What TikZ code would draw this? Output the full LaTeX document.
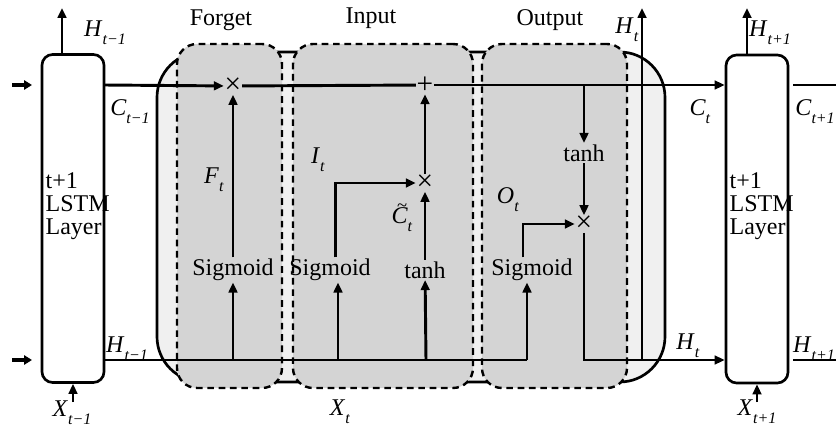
\documentclass[tikz,border=0pt]{standalone}
\usepackage{fontspec}
\setmainfont{Liberation Serif}
\usetikzlibrary{positioning,arrows.meta}
\definecolor{gateFill}{HTML}{D4D4D4}
\definecolor{cellFill}{HTML}{F0F0F0}
\newcommand{\sublab}[2]{\textit{#1}\raisebox{-0.75ex}{\fontsize{12pt}{12pt}\selectfont\textit{#2}}}
\newcommand{\tildeC}{\makebox[0pt][l]{\hspace{0.22em}\raisebox{0.5em}{\fontsize{14pt}{14pt}\selectfont\char"7E}}\textit{C}}

\begin{document}
\begin{tikzpicture}[x=0.75pt,y=-0.75pt,
          every node/.style={font=\fontsize{18pt}{19pt}\selectfont,inner sep=1pt},
          cell/.style={draw,line width=2pt,fill=cellFill,rounded corners=34pt,
                       minimum width=381pt,minimum height=247.5pt},
          gate/.style={draw,line width=1.8pt,dash pattern=on 5pt off 3.5pt,
                       fill=gateFill,rounded corners=15pt,minimum height=258pt},
          layer/.style={draw,line width=2pt,fill=white,rounded corners=8pt,
                        minimum width=46.5pt,minimum height=246pt,inner sep=0pt},
          ltext/.style={anchor=west,align=left,font=\fontsize{18pt}{17.5pt}\selectfont},
          op/.style={font=\fontsize{22pt}{22pt}\selectfont,inner sep=0.5pt},
          wire/.style={line width=2.2pt},
          flow/.style={line width=2.2pt,-{Triangle[length=7.5pt,width=6.5pt]}},
          stub/.style={line width=2.8pt,-{Triangle[length=6pt,width=7pt]}},
        ]
        \useasboundingbox (0,0) rectangle (836,428);
        % cell and gates
        \node[cell] (cell) at (411,217) {};
        \node[gate,minimum width=78.75pt] (fg) at (229.5,216) {};
        \node[gate,minimum width=135pt] (ig) at (383,216) {};
        \node[gate,minimum width=108.75pt] (og) at (554.5,216) {};
        \node (fgt) at (221,20) {Forget};
        \node (igt) at (371,18) {Input};
        \node (ogt) at (550,20) {Output};

        % layers
        \node[layer] (l1) at (73,218.5) {};
        \node[layer] (l2) at (757,219) {};
        \node[ltext] (l1t) at (44,206) {t+1\\LSTM\\Layer};
        \node[ltext] (l2t) at (728,206) {t+1\\LSTM\\Layer};

        % operations
        \node[op] (mf) at (233,86) {×};
        \node[op] (pc) at (425,85) {+};
        \node[op] (mi) at (425,183) {×};
        \node[op] (mo) at (584,224) {×};
        \node (sf) at (233,270) {Sigmoid};
        \node (si) at (330,270) {Sigmoid};
        \node (ti) at (425,270) {tanh};
        \node (so) at (532,270) {Sigmoid};
        \node (to) at (584,153) {tanh};

        \coordinate (c0) at (104,85);
        \coordinate (h0) at (104,360);
        \coordinate (hf) at (233,360);
        \coordinate (hi) at (338,360);
        \coordinate (ht) at (426,360);
        \coordinate (ho) at (527,360);
        \coordinate (ct) at (584,85);
        \coordinate (hc) at (642,360);
        \coordinate (htop) at (642,8);
        \coordinate (hup1) at (62,8);
        \coordinate (hup2) at (747,8);
        \coordinate (xin1) at (73,402);
        \coordinate (xin2) at (757,402);
        \coordinate (cin0) at (12,85);
        \coordinate (cin1) at (32,85);
        \coordinate (hin0) at (12,360);
        \coordinate (hin1) at (32,360);
        \coordinate (cout0) at (793,85);
        \coordinate (cout1) at (836,85);
        \coordinate (hout0) at (793,360);
        \coordinate (hout1) at (836,360);

        % cell state
        \draw[stub] (cin0) -- (cin1);
        \draw[stub] (hin0) -- (hin1);
        \draw[flow] (c0) -- (mf);
        \draw[wire] (mf) -- (pc);
        \draw[flow] (pc) -- (pc -| l2.west);
        \draw[wire] (cout0) -- (cout1);
        \draw[wire] (hout0) -- (hout1);

        % hidden state and gates
        \draw[wire] (h0) -- (ho);
        \draw[flow] (hf) -- (sf);
        \draw[flow] (sf) -- (mf);
        \draw[flow] (hi) -- (si.south -| hi);
        \draw[flow] ([xshift=-2pt]si.north -| hi) |- (mi);
        \draw[flow] (ht) -- (ti);
        \draw[flow] (ti) -- (mi);
        \draw[flow] (mi) -- (pc);
        \draw[flow] (ho) -- (so.south -| ho);
        \draw[flow] ([xshift=-3pt]so.north -| ho) |- (mo);
        \draw[flow] (ct) -- (to);
        \draw[flow] (to) -- (mo);
        \draw[wire] (mo) |- (hc);
        \draw[flow] (hc) -- (htop);
        \draw[flow] (hc) -- (hc -| l2.west);
        \draw[flow] (hup1 |- l1.north) -- (hup1);
        \draw[flow] (hup2 |- l2.north) -- (hup2);
        \draw[flow] (xin1) -- (l1.south);
        \draw[flow] (xin2) -- (l2.south);

        % labels
        \node (lh1) at (105,33) {\sublab{H}{t−1}};
        \node (lc1) at (130,112) {\sublab{C}{t−1}};
        \node (lh1b) at (127,349) {\sublab{H}{t−1}};
        \node (lx1) at (72,413) {\sublab{X}{t−1}};
        \node (lf) at (214,180) {\sublab{F}{t}};
        \node (li) at (318,160) {\sublab{I}{t}};
        \node (lct) at (402,218) {\sublab{\tildeC}{t}};
        \node (lo) at (508,200) {\sublab{O}{t}};
        \node (lx) at (340,412) {\sublab{X}{t}};
        \node (lh) at (627,30) {\sublab{H}{t}};
        \node (lc) at (700,112) {\sublab{C}{t}};
        \node (lhb) at (688,346) {\sublab{H}{t}};
        \node (lh2) at (770,33) {\sublab{H}{t+1}};
        \node (lc2) at (815,112) {\sublab{C}{t+1}};
        \node (lh2b) at (814,349) {\sublab{H}{t+1}};
        \node (lx2) at (757,412) {\sublab{X}{t+1}};
      \end{tikzpicture}
\end{document}
